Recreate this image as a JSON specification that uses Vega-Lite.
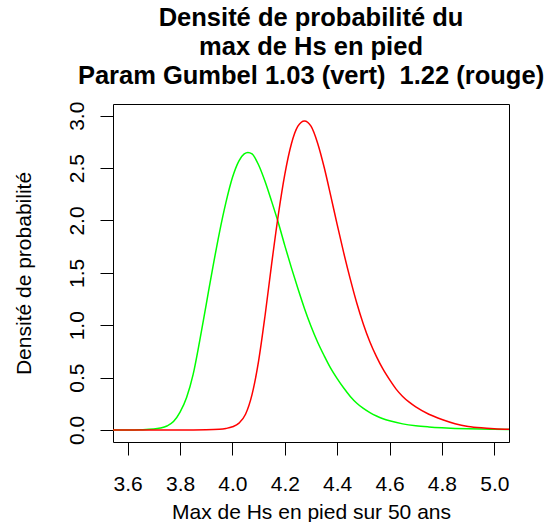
{
  "$schema": "https://vega.github.io/schema/vega-lite/v6.json",
  "width": 396,
  "height": 338,
  "autosize": {"type": "none"},
  "padding": {"left": 113, "top": 104, "right": 40, "bottom": 80},
  "background": "white",
  "config": {
    "view": {"stroke": "black", "strokeWidth": 1},
    "axis": {
      "domain": false, "grid": false, "tickColor": "black", "tickSize": 13, "tickWidth": 1,
      "labelFont": "Liberation Sans", "labelFontSize": 21, "labelColor": "black",
      "titleFont": "Liberation Sans", "titleFontSize": 21, "titleColor": "black", "titleFontWeight": "normal"
    }
  },
  "title": {
    "text": ["Densité de probabilité du", "max de Hs en pied", "Param Gumbel 1.03 (vert)\u00a0 1.22 (rouge)"],
    "font": "Liberation Sans", "fontSize": 25.5, "fontWeight": "bold", "color": "black",
    "lineHeight": 29, "anchor": "middle", "frame": "group", "offset": 12
  },
  "datasets": {
    "vert": [
      {"x": 3.544, "y": 0}, {"x": 3.6, "y": 0}, {"x": 3.65, "y": 0.002}, {"x": 3.7, "y": 0.008},
      {"x": 3.725, "y": 0.018}, {"x": 3.75, "y": 0.038}, {"x": 3.775, "y": 0.08}, {"x": 3.8, "y": 0.17},
      {"x": 3.825, "y": 0.31}, {"x": 3.85, "y": 0.53}, {"x": 3.875, "y": 0.85}, {"x": 3.9, "y": 1.2},
      {"x": 3.925, "y": 1.55}, {"x": 3.95, "y": 1.88}, {"x": 3.975, "y": 2.17}, {"x": 4.0, "y": 2.41},
      {"x": 4.025, "y": 2.57}, {"x": 4.045, "y": 2.635}, {"x": 4.059, "y": 2.65}, {"x": 4.075, "y": 2.635},
      {"x": 4.1, "y": 2.53}, {"x": 4.125, "y": 2.37}, {"x": 4.15, "y": 2.18}, {"x": 4.175, "y": 1.98},
      {"x": 4.2, "y": 1.76}, {"x": 4.225, "y": 1.55}, {"x": 4.25, "y": 1.35}, {"x": 4.275, "y": 1.16},
      {"x": 4.3, "y": 0.99}, {"x": 4.325, "y": 0.84}, {"x": 4.35, "y": 0.71}, {"x": 4.375, "y": 0.59},
      {"x": 4.4, "y": 0.49}, {"x": 4.425, "y": 0.4}, {"x": 4.45, "y": 0.32}, {"x": 4.475, "y": 0.255},
      {"x": 4.5, "y": 0.205}, {"x": 4.525, "y": 0.165}, {"x": 4.55, "y": 0.133}, {"x": 4.575, "y": 0.107},
      {"x": 4.6, "y": 0.087}, {"x": 4.65, "y": 0.058}, {"x": 4.7, "y": 0.04}, {"x": 4.75, "y": 0.029},
      {"x": 4.8, "y": 0.021}, {"x": 4.85, "y": 0.015}, {"x": 4.9, "y": 0.011}, {"x": 4.95, "y": 0.008},
      {"x": 5.0, "y": 0.006}, {"x": 5.056, "y": 0.004}
    ],
    "rouge": [
      {"x": 3.544, "y": 0}, {"x": 3.85, "y": 0}, {"x": 3.9, "y": 0.001}, {"x": 3.95, "y": 0.006},
      {"x": 3.975, "y": 0.014}, {"x": 4.0, "y": 0.03}, {"x": 4.025, "y": 0.065}, {"x": 4.05, "y": 0.15},
      {"x": 4.075, "y": 0.34}, {"x": 4.1, "y": 0.66}, {"x": 4.125, "y": 1.1}, {"x": 4.15, "y": 1.59},
      {"x": 4.175, "y": 2.05}, {"x": 4.2, "y": 2.44}, {"x": 4.225, "y": 2.73}, {"x": 4.25, "y": 2.9},
      {"x": 4.275, "y": 2.95}, {"x": 4.3, "y": 2.9}, {"x": 4.325, "y": 2.74}, {"x": 4.35, "y": 2.51},
      {"x": 4.375, "y": 2.24}, {"x": 4.4, "y": 1.96}, {"x": 4.425, "y": 1.69}, {"x": 4.45, "y": 1.44},
      {"x": 4.475, "y": 1.21}, {"x": 4.5, "y": 1.01}, {"x": 4.525, "y": 0.84}, {"x": 4.55, "y": 0.7},
      {"x": 4.575, "y": 0.58}, {"x": 4.6, "y": 0.48}, {"x": 4.625, "y": 0.39}, {"x": 4.65, "y": 0.32},
      {"x": 4.675, "y": 0.265}, {"x": 4.7, "y": 0.22}, {"x": 4.75, "y": 0.15}, {"x": 4.8, "y": 0.1},
      {"x": 4.85, "y": 0.06}, {"x": 4.9, "y": 0.034}, {"x": 4.95, "y": 0.02}, {"x": 5.0, "y": 0.012},
      {"x": 5.056, "y": 0.007}
    ]
  },
  "encoding": {
    "x": {
      "field": "x", "type": "quantitative",
      "scale": {"domain": [3.544, 5.056], "nice": false, "zero": false},
      "axis": {
        "title": "Max de Hs en pied sur 50 ans", "values": [3.6, 3.8, 4.0, 4.2, 4.4, 4.6, 4.8, 5.0],
        "format": ".1f", "labelBaseline": "alphabetic", "labelPadding": 35, "labelFlush": false,
        "titleBaseline": "alphabetic", "titleY": 76, "titleX": 198, "titleAnchor": "middle"
      }
    },
    "y": {
      "field": "y", "type": "quantitative",
      "scale": {"domain": [-0.115, 3.112], "nice": false, "zero": false},
      "axis": {
        "title": "Densité de probabilité", "values": [0, 0.5, 1, 1.5, 2, 2.5, 3],
        "format": ".1f", "labelAngle": -90, "labelAlign": "center", "labelBaseline": "alphabetic",
        "labelPadding": 17, "labelFlush": false,
        "titleAngle": -90, "titleAlign": "center", "titleBaseline": "middle", "titleX": -89, "titleY": 169
      }
    }
  },
  "layer": [
    {"data": {"name": "vert"}, "mark": {"type": "line", "color": "#00FF00", "strokeWidth": 1.5, "interpolate": "monotone", "clip": true}},
    {"data": {"name": "rouge"}, "mark": {"type": "line", "color": "#FF0000", "strokeWidth": 1.5, "interpolate": "monotone", "clip": true}}
  ]
}
